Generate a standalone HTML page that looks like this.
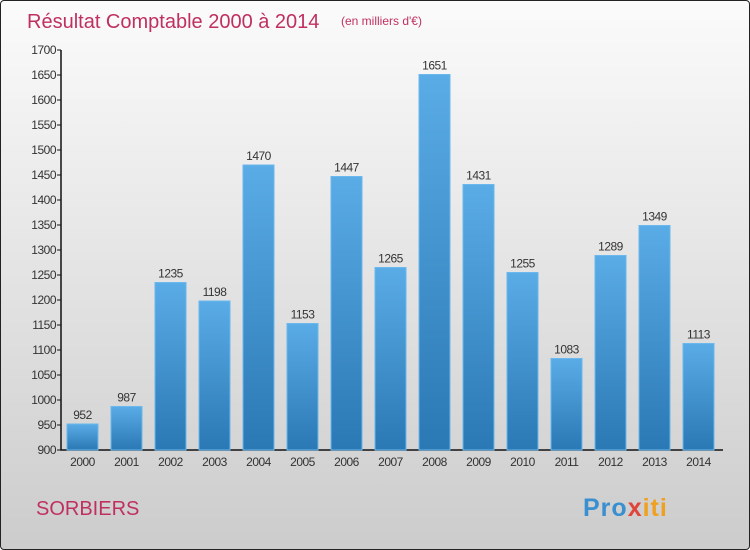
<!DOCTYPE html>
<html><head><meta charset="utf-8"><style>
body{margin:0}
#c{width:748px;height:548px;border:1px solid #222;border-radius:4px;background:linear-gradient(#fbfbfb,#cccccc);position:relative;overflow:hidden;font-family:"Liberation Sans",sans-serif}
</style></head><body>
<div id="c">
<svg id="s" width="748" height="548" style="position:absolute;left:0;top:0">
<defs><linearGradient id="bg" x1="0" y1="0" x2="0" y2="1"><stop offset="0" stop-color="#5aace6"/><stop offset="1" stop-color="#2a78b4"/></linearGradient></defs>
<text x="26" y="27" font-size="20" fill="#c0305f">Résultat Comptable 2000 à 2014</text>
<text x="340" y="24" font-size="12" fill="#c0305f">(en milliers d'€)</text>
<text x="35" y="514" font-size="20" fill="#c0305f">SORBIERS</text>
<text x="582" y="515" font-size="25" font-weight="bold" letter-spacing="1"><tspan fill="#3a8fd0">Pro</tspan><tspan fill="#e0453a">x</tspan><tspan fill="#f0a020">iti</tspan></text>
<g id="g"></g>
</svg></div>
<script>
const categories=["2000","2001","2002","2003","2004","2005","2006","2007","2008","2009","2010","2011","2012","2013","2014"];
const values=[952,987,1235,1198,1470,1153,1447,1265,1651,1431,1255,1083,1289,1349,1113];
const ticks=[900,950,1000,1050,1100,1150,1200,1250,1300,1350,1400,1450,1500,1550,1600,1650,1700];
const NS="http://www.w3.org/2000/svg",g=document.getElementById('g');
const y=v=>449-(v-900)*0.5, x=i=>81.5+i*44;
function el(t,a,txt){const e=document.createElementNS(NS,t);for(const k in a)e.setAttribute(k,a[k]);if(txt!=null)e.textContent=txt;g.appendChild(e);return e;}
let ax=el('path',{d:'M60,49V449H722',stroke:'#111',fill:'none','stroke-width':1.5});


ticks.forEach(t=>{
 let l=el('line',{x1:56,x2:60,y1:y(t),y2:y(t),stroke:'#111'});
 
 
 let tx=el('text',{x:55,y:y(t)+4,'text-anchor':'end','font-size':12,fill:'#333','letter-spacing':'-0.5'},t);
 
 
});
categories.forEach((c,i)=>{
 let b=el('rect',{x:x(i)-15.5,y:y(values[i]),width:31,height:449-y(values[i]),fill:'url(#bg)',stroke:'#6ab8ee','stroke-width':1});
 
 
 let v=el('text',{x:x(i),y:y(values[i])-5,'text-anchor':'middle','font-size':12,fill:'#333','letter-spacing':'-0.5'},values[i]);
 
 
 let l=el('text',{x:x(i),y:465,'text-anchor':'middle','font-size':12,fill:'#333','letter-spacing':'-0.5'},c);
 
 
});
</script>
</body></html>
